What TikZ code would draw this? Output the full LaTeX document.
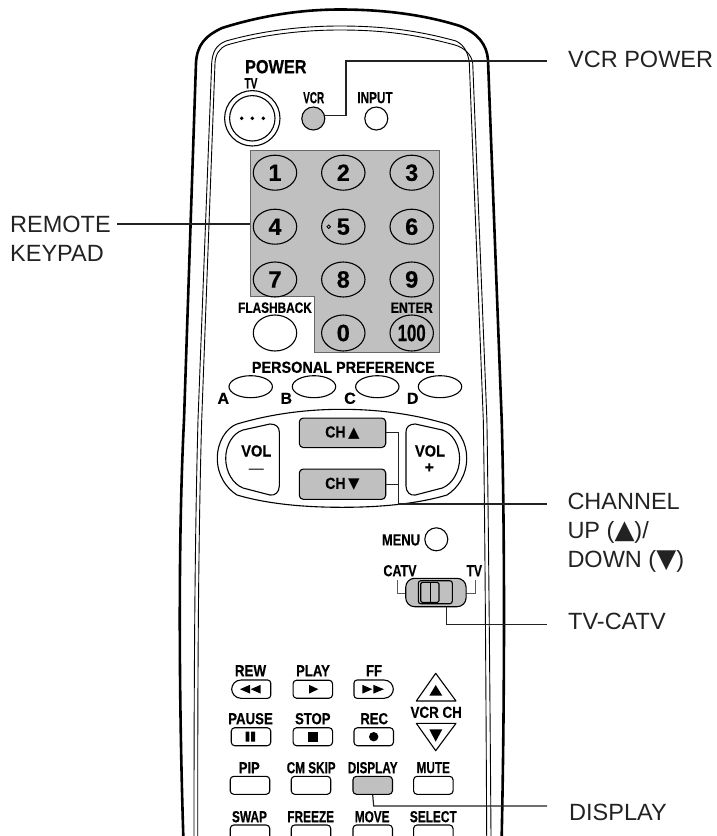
\documentclass[tikz,border=0pt]{standalone}
\usepackage{graphicx}
\usepackage{fontspec}
\setmainfont[BoldFeatures={FakeBold=0.5}]{Liberation Sans}
\newfontfamily\symfont{DejaVu Sans}
\usetikzlibrary{shapes,positioning,calc}

\definecolor{keygray}{HTML}{C0C0C0}
\definecolor{inkgray}{HTML}{222222}
\newcommand{\nrw}[2]{\scalebox{\fpeval{#1*.94}}[1]{#2}}
\newcommand{\bigtri}[1]{{\symfont\fontsize{26}{28.8}\selectfont #1}}

\begin{document}
\begin{tikzpicture}[
    x=1pt, y=-1pt,
    body/.style={line width=2.6pt, line cap=round},
    rimline/.style={line width=0.9pt},
    keyline/.style={line width=1.1pt, line join=round},
    digit/.style={ellipse, draw, line width=1.1pt, inner sep=0pt, minimum width=43.4pt, minimum height=35pt, font=\fontsize{23.5}{25}\selectfont\bfseries},
    roundkey/.style={circle, draw, line width=1.1pt, inner sep=0pt, minimum size=23pt},
    prefkey/.style={ellipse, draw, line width=1.1pt, inner sep=0pt, minimum width=43.4pt, minimum height=22pt},
    chkey/.style={rectangle, draw, rounded corners=4pt, line width=1.1pt, fill=keygray, inner sep=0pt, minimum width=86.4pt, minimum height=29.5pt, font=\fontsize{16}{18}\selectfont\bfseries},
    vcrkey/.style={rectangle, draw, rounded corners=3.5pt, line width=1.1pt, inner sep=0pt, minimum width=39.5pt, minimum height=18pt},
    keyname/.style={inner sep=0pt, font=\fontsize{16}{18}\selectfont\bfseries},
    callout/.style={inner sep=0pt, anchor=west, align=left, text=inkgray, font=\fontsize{23.5}{28.8}\selectfont},
    leader/.style={line width=1.2pt, draw=inkgray},
    thinlead/.style={line width=0.8pt, draw=black!65}
]
    \useasboundingbox (0,0) rectangle (717,836);

    % case outline
    \draw[body] (183.3,836) .. controls (179,700) and (178,540) .. (184,420) -- (196,63) .. controls (197,45) and (205,36) .. (222,28) .. controls (260,16) and (300,9.5) .. (340,9.5) .. controls (385,9.5) and (425,15) .. (460,26) .. controls (478,33) and (487,45) .. (488,60) -- (501.7,420) .. controls (504.5,520) and (505,680) .. (501.7,836);
    \draw[rimline] (194,836) .. controls (194,700) and (194.5,550) .. (198,420) -- (211.7,63) .. controls (212.5,52) and (216,45) .. (226,41) .. controls (265,30) and (305,26) .. (340,26) .. controls (385,26) and (420,31) .. (456,41) .. controls (464,45) and (468,52) .. (469.3,63) -- (483.3,420) .. controls (485,520) and (486,700) .. (486.7,836);
    \draw[rimline] (197.7,836) .. controls (197.7,700) and (198,550) .. (201.7,420) -- (215,63) .. controls (215.5,55) and (219,48) .. (227,45) .. controls (265,34) and (305,30) .. (340,30) .. controls (385,30) and (418,35) .. (455,45) .. controls (465,48) and (471.5,55) .. (472.7,63) -- (486.9,420) .. controls (488.5,520) and (490,700) .. (491,836);

    % power row
    \node[keyname, font=\fontsize{19}{21}\selectfont\bfseries] (powerlabel) at (275.8,66.7) {\nrw{.91}{POWER}};
    \node[keyname, font=\fontsize{15}{17}\selectfont\bfseries] (tvlabel) at (251,83.3) {\nrw{.71}{TV}};
    \node[keyname] (vcrlabel) at (313.7,97.7) {\nrw{.66}{VCR}};
    \node[keyname] (inputlabel) at (375,97.7) {\nrw{.78}{INPUT}};
    \node[circle, draw, line width=1.1pt, inner sep=0pt, minimum size=55.4pt] (tvkey) at (252.3,118.3) {};
    \node[circle, draw, line width=1.1pt, inner sep=0pt, minimum size=45.4pt] (tvinner) at (tvkey.center) {};
    \fill (241.7,118.3) circle (1.9) (252.3,118.3) circle (1.9) (263.3,118.3) circle (1.9);
    \node[roundkey, fill=keygray] (vcrbtn) at (313.3,118.5) {};
    \node[roundkey] (inputkey) at (376.3,118.5) {};

    % keypad
    \draw[line width=1pt, draw=black!60, fill=keygray] (250,150) -- (439.3,150) -- (439.3,352.7) -- (314.3,352.7) -- (314.3,296) -- (250,296) -- cycle;
    \node[digit] (one) at (275,172.7) {1};
    \node[digit] (two) at (343.3,172.7) {2};
    \node[digit] (three) at (411.7,172.7) {3};
    \node[digit] (four) at (275,226.7) {4};
    \node[digit] (five) at (343.3,226.7) {5};
    \node[digit] (six) at (411.7,226.7) {6};
    \node[digit] (seven) at (275,279.5) {7};
    \node[digit] (eight) at (343.3,279.5) {8};
    \node[digit] (nine) at (411.7,279.5) {9};
    \draw[line width=0.8pt] (328.7,226.7) circle (1.8);
    \node[keyname, font=\fontsize{15}{17}\selectfont\bfseries] (flashlabel) at (275,307.7) {\nrw{.84}{FLASHBACK}};
    \node[keyname, font=\fontsize{15}{17}\selectfont\bfseries] (enterlabel) at (411.7,307.7) {\nrw{.88}{ENTER}};
    \node[digit, minimum height=36pt, fill=white] (flash) at (275,333) {};
    \node[digit, minimum height=36pt] (zero) at (343.3,333) {0};
    \node[digit, minimum height=36pt] (hundred) at (411.7,333) {\nrw{.76}{100}};

    % personal preference
    \node[keyname] (preflabel) at (343.3,367.3) {\nrw{.96}{PERSONAL PREFERENCE}};
    \node[prefkey] (prefa) at (250.7,386.7) {};
    \node[prefkey] (prefb) at (314,386.7) {};
    \node[prefkey] (prefc) at (377.3,386.7) {};
    \node[prefkey] (prefd) at (440,386.7) {};
    \node[keyname] (lettera) at (223.3,398.3) {A};
    \node[keyname] (letterb) at (286.3,398.3) {B};
    \node[keyname] (letterc) at (350,398.3) {C};
    \node[keyname] (letterd) at (412.7,398.3) {D};

    % volume and channel cluster
    \draw[keyline] (342,409.3) .. controls (385,409.3) and (420,416) .. (447,424) .. controls (458,428) and (466.7,442) .. (466.7,458.3) .. controls (466.7,475) and (458,488) .. (447,495) .. controls (420,503) and (385,507.3) .. (342,507.3) .. controls (299,507.3) and (264,503) .. (237,495) .. controls (226,488) and (217.3,475) .. (217.3,458.3) .. controls (217.3,442) and (226,428) .. (237,424) .. controls (264,416) and (299,409.3) .. (342,409.3) -- cycle;
    \draw[keyline] (270,424) .. controls (276,424) and (279.3,427) .. (279.3,432) -- (279.3,486) .. controls (279.3,492) and (275,496) .. (270,495) -- (243,488) .. controls (233,484) and (225.7,472) .. (225.7,458.3) .. controls (225.7,445) and (233,433) .. (243,430) -- cycle;
    \draw[keyline] (415.3,424) .. controls (409.3,424) and (406,427) .. (406,432) -- (406,486) .. controls (406,492) and (410.3,496) .. (415.3,495) -- (442.3,488) .. controls (452.3,484) and (459.6,472) .. (459.6,458.3) .. controls (459.6,445) and (452.3,433) .. (442.3,430) -- cycle;
    \node[keyname] (volminus) at (256.3,451) {\nrw{.97}{VOL}};
    \node[keyname, font=\fontsize{15}{17}\selectfont] (minussign) at (256.3,471) {—};
    \node[keyname] (volplus) at (430,451) {\nrw{.97}{VOL}};
    \node[keyname] (plussign) at (429.3,468) {+};
    \node[chkey] (chup) at (342.5,432.8) {\nrw{.93}{CH}\,{\symfont\fontsize{15}{17}\selectfont ▲}};
    \node[chkey, minimum height=30.3pt] (chdown) at (342.5,484.2) {\nrw{.93}{CH}\,{\symfont\fontsize{15}{17}\selectfont ▼}};

    % menu and switch
    \node[keyname] (menulabel) at (401,540) {\nrw{.86}{MENU}};
    \node[roundkey] (menukey) at (436.3,539.3) {};
    \node[keyname] (catvlabel) at (400,570.7) {\nrw{.83}{CATV}};
    \node[keyname] (tvside) at (474.3,570.7) {\nrw{.8}{TV}};
    \draw[thinlead] (397.7,580) |- (406,593.3);
    \draw[thinlead] (475,580) |- (466,593.3);
    \node[rectangle, draw, rounded corners=9pt, line width=1.1pt, fill=keygray, inner sep=0pt, minimum width=60.4pt, minimum height=28.4pt] (switch) at (435.9,592.5) {};
    \draw[keyline, rounded corners=2.5pt] (418.3,580.7) rectangle (452.3,603.7);
    \draw[keyline, rounded corners=1.5pt] (420.7,582.3) rectangle (439,602.3);
    \draw[line width=0.9pt] (430,582.3) -- (430,602.3);

    % vcr keys
    \node[keyname] (rewlabel) at (250.5,670.7) {\nrw{.89}{REW}};
    \node[keyname] (playlabel) at (313,670.7) {\nrw{.87}{PLAY}};
    \node[keyname] (fflabel) at (374,670.7) {\nrw{.87}{FF}};
    \draw[keyline] (270.7,683) -- (270.7,695.3) arc[start angle=0, end angle=90, radius=3] -- (241,698.3) .. controls (235,698.3) and (231.7,693) .. (231.7,689.2) .. controls (231.7,685) and (235,680) .. (241,680) -- (267.7,680) arc[start angle=-90, end angle=0, radius=3] -- cycle;
    \node[vcrkey] (playkey) at (312.8,689.2) {};
    \draw[keyline] (354,683) -- (354,695.3) arc[start angle=180, end angle=90, radius=3] -- (384,698.3) .. controls (390,698.3) and (393.3,693) .. (393.3,689.2) .. controls (393.3,685) and (390,680) .. (384,680) -- (357,680) arc[start angle=-90, end angle=-180, radius=3] -- cycle;
    \fill (250,684.8) -- (250,693.6) -- (240,689.2) -- cycle;
    \fill (260.7,684.8) -- (260.7,693.6) -- (250.7,689.2) -- cycle;
    \fill (309,684.8) -- (309,693.6) -- (318.3,689.2) -- cycle;
    \fill (362.3,684.8) -- (362.3,693.6) -- (372.3,689.2) -- cycle;
    \fill (373.3,684.8) -- (373.3,693.6) -- (384,689.2) -- cycle;

    \node[keyname] (pauselabel) at (250.5,718.7) {\nrw{.88}{PAUSE}};
    \node[keyname] (stoplabel) at (312.8,718.7) {\nrw{.87}{STOP}};
    \node[keyname] (reclabel) at (374.2,718.7) {\nrw{.87}{REC}};
    \node[vcrkey] (pausekey) at (251,736.7) {};
    \node[vcrkey] (stopkey) at (312.8,736.7) {};
    \node[vcrkey] (reckey) at (373.7,736.7) {};
    \fill (245.7,731.7) rectangle (249.3,741.7) (251,731.7) rectangle (255,741.7);
    \fill (307.7,731.7) rectangle (317.7,741.7);
    \fill (373.7,736.7) circle (4.7);

    \draw[keyline] (435.7,673.3) -- (456,701) -- (416.3,701) -- cycle;
    \fill (435.7,685) -- (442.3,695.7) -- (429.3,695.7) -- cycle;
    \node[keyname] (vcrchlabel) at (436.2,712.3) {\nrw{.89}{VCR CH}};
    \draw[keyline] (435.7,750.7) -- (456,723.3) -- (416.3,723.3) -- cycle;
    \fill (435.7,741.7) -- (442.3,729.3) -- (429.3,729.3) -- cycle;

    \node[keyname] (piplabel) at (249.3,767.7) {\nrw{.86}{PIP}};
    \node[keyname] (skiplabel) at (311.2,767.7) {\nrw{.78}{CM SKIP}};
    \node[keyname] (displabel) at (372.7,767.7) {\nrw{.78}{DISPLAY}};
    \node[keyname] (mutelabel) at (433.3,767.7) {\nrw{.78}{MUTE}};
    \node[vcrkey] (pipkey) at (250,785.3) {};
    \node[vcrkey] (skipkey) at (311,785.3) {};
    \node[vcrkey, fill=keygray] (dispkey) at (372.7,785.3) {};
    \node[vcrkey] (mutekey) at (433.3,785.3) {};

    \node[keyname] (swaplabel) at (249.5,816.7) {\nrw{.79}{SWAP}};
    \node[keyname] (freezelabel) at (310.7,816.7) {\nrw{.79}{FREEZE}};
    \node[keyname] (movelabel) at (372.2,816.7) {\nrw{.78}{MOVE}};
    \node[keyname] (selectlabel) at (433.3,816.7) {\nrw{.79}{SELECT}};
    \node[vcrkey] (swapkey) at (250,834) {};
    \node[vcrkey] (freezekey) at (311,834) {};
    \node[vcrkey] (movekey) at (372.7,834) {};
    \node[vcrkey] (selectkey) at (433.3,834) {};

    % callouts
    \node[callout] (vcrcall) at (568,59) {VCR POWER};
    \node[callout] (keypadcall) at (10,238.5) {REMOTE\\KEYPAD};
    \node[callout] (chancall) at (567.3,533) {CHANNEL\\UP (\bigtri{▲})/\\DOWN (\bigtri{▼})};
    \node[callout] (catvcall) at (568,621) {TV-CATV};
    \node[callout] (dispcall) at (569,812) {DISPLAY};

    \coordinate (vcrturn) at (346,61);
    \coordinate (vcrend) at (547,61);
    \coordinate (padstart) at (117,224);
    \coordinate (padedge) at (250,224);
    \coordinate (chturn) at (398.3,504);
    \coordinate (chend) at (547,504);
    \coordinate (catvturn) at (446.7,624.3);
    \coordinate (catvend) at (547,624.3);
    \coordinate (dispturn) at (373.7,806);
    \coordinate (dispend) at (547,806);

    \draw[leader] (vcrbtn.15) -| (vcrturn) -- (vcrend);
    \draw[leader] (padstart) -- (padedge);
    \draw[leader] (chup.east) -| (chturn) -- (chend);
    \draw[leader] (chdown.east) -- (chdown.east -| chturn);
    \draw[leader] (catvturn |- switch.south) -- (catvturn) -- (catvend);
    \draw[leader] (dispkey.south) -- (dispturn) -- (dispend);
\end{tikzpicture}
\end{document}
